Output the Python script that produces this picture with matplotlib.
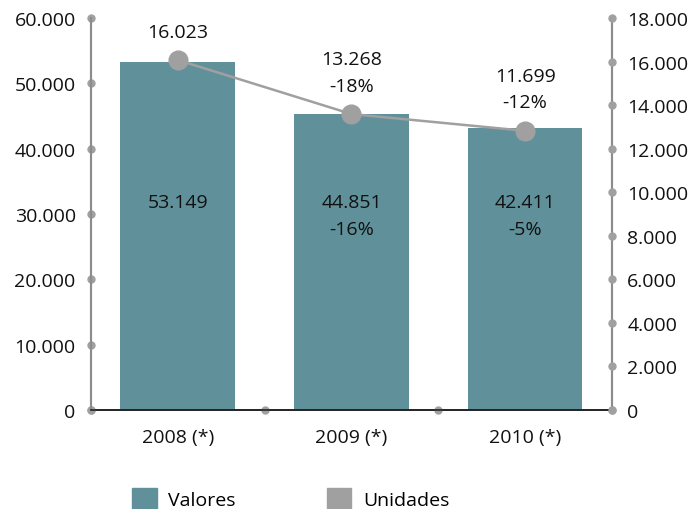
import matplotlib
matplotlib.use("Agg")
import matplotlib.pyplot as plt
from matplotlib.patches import Patch

plt.rcParams['font.family'] = ['Open Sans', 'DejaVu Sans']

years = ['2008 (*)', '2009 (*)', '2010 (*)']
# heights as drawn in the picture
valores = [53250, 45300, 43150]
unidades = [16070, 13590, 12820]
# labels as printed
valores_labels = ['53.149', '44.851\n-16%', '42.411\n-5%']
unidades_labels = ['16.023', '13.268\n-18%', '11.699\n-12%']

left_ticks = [0, 10000, 20000, 30000, 40000, 50000, 60000]
right_ticks = [0, 2000, 4000, 6000, 8000, 10000, 12000, 14000, 16000, 18000]

bar_color = '#60919a'
line_color = '#a0a0a0'
axis_gray = '#8c8c8c'
fs = 14


def fmt(v):
    return f'{v:,}'.replace(',', '.')


fig = plt.figure(figsize=(6.96, 5.10), dpi=100)
ax = fig.add_axes([0.1307, 0.1941, 0.7486, 0.7686])
ax2 = ax.twinx()

x = list(range(len(years)))
ax.bar(x, valores, width=0.66, color=bar_color, zorder=2)
ax.set_xlim(-0.5, len(years) - 0.5)
ax.set_ylim(0, 60000)
ax2.set_ylim(0, 18000)

ax.set_yticks(left_ticks)
ax.set_yticklabels([fmt(t) for t in left_ticks], fontsize=fs)
ax2.set_yticks(right_ticks)
ax2.set_yticklabels([fmt(t) for t in right_ticks], fontsize=fs)
ax.set_xticks(x)
ax.set_xticklabels(years, fontsize=fs)
for a in (ax, ax2):
    a.tick_params(length=0, pad=11, colors='#111111')
ax.tick_params(axis='x', pad=13)

for a in (ax, ax2):
    a.spines['top'].set_visible(False)
    a.spines['left'].set_color(axis_gray)
    a.spines['right'].set_color(axis_gray)
    a.spines['left'].set_linewidth(1.5)
    a.spines['right'].set_linewidth(1.5)
    a.spines['bottom'].set_color('#222222')
    a.spines['bottom'].set_linewidth(1.2)

# tick dots along the axes
ax.plot([0] * len(left_ticks), left_ticks, 'o', ms=5, color=line_color,
        transform=ax.get_yaxis_transform(), clip_on=False, zorder=5)
ax2.plot([1] * len(right_ticks), right_ticks, 'o', ms=5, color=line_color,
         transform=ax2.get_yaxis_transform(), clip_on=False, zorder=5)
bounds = [i - 0.5 for i in range(len(years) + 1)]
ax.plot(bounds, [0] * len(bounds), 'o', ms=5, color=line_color,
        transform=ax.get_xaxis_transform(), clip_on=False, zorder=5)

# line on secondary axis
ax2.plot(x, unidades, color=line_color, lw=1.8, marker='o', ms=13.5, zorder=4)

for i, txt in enumerate(valores_labels):
    ax.text(i, 33200, txt, ha='center', va='top', fontsize=fs,
            linespacing=1.6, color='#111111')

for i, txt in enumerate(unidades_labels):
    ax2.annotate(txt, (i, unidades[i]), xytext=(0, 14), textcoords='offset points',
                 ha='center', va='bottom', fontsize=fs, linespacing=1.6,
                 color='#111111')

handles = [Patch(color=bar_color, label='Valores'),
           Patch(color=line_color, label='Unidades')]
fig.legend(handles=handles, loc='lower center', ncol=2, frameon=False,
           fontsize=fs, bbox_to_anchor=(0.418, -0.035), handlelength=1.25,
           handleheight=1.3, columnspacing=4.7, handletextpad=0.6)

fig.savefig('out.png', dpi=100)
